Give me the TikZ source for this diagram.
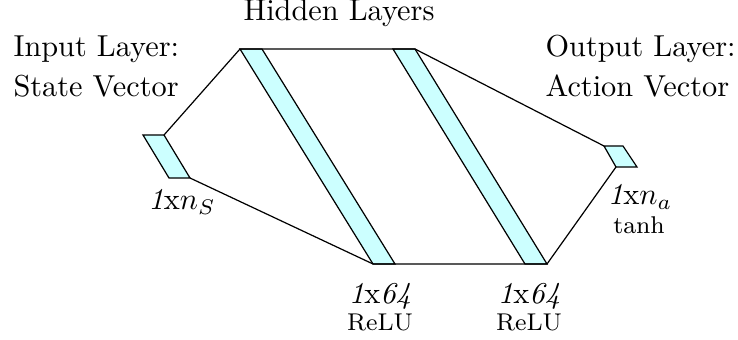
\documentclass[tikz,border=0pt]{standalone}
\usepackage{amsmath}
\usepackage{xcolor}
\usepackage{tikz}
\definecolor{layercyan}{HTML}{CCFFFF}

\begin{document}
\begin{tikzpicture}[x=0.33pt,y=-0.33pt,
    layerbox/.style={draw=black, fill=layercyan, line width=0.4pt},
    link/.style={draw=black, line width=0.4pt},
    title/.style={anchor=base, inner sep=0pt},
    sizelbl/.style={anchor=base, inner sep=0pt},
    actlbl/.style={anchor=base, inner sep=0pt, font=\footnotesize}]
  \useasboundingbox (0,0) rectangle (738,340);

  \coordinate (inTL) at (143,135); \coordinate (inTR) at (164,135);
  \coordinate (inBR) at (190,178); \coordinate (inBL) at (169,178);
  \coordinate (h1TL) at (240,49);  \coordinate (h1TR) at (262,49);
  \coordinate (h1BR) at (395,264); \coordinate (h1BL) at (373,264);
  \coordinate (h2TL) at (393,49);  \coordinate (h2TR) at (415,49);
  \coordinate (h2BR) at (547,264); \coordinate (h2BL) at (525,264);
  \coordinate (outTL) at (604,146); \coordinate (outTR) at (623,146);
  \coordinate (outBR) at (637,167); \coordinate (outBL) at (616,167);

  \filldraw[layerbox] (inTL) -- (inTR) -- (inBR) -- (inBL) -- cycle;
  \filldraw[layerbox] (h1TL) -- (h1TR) -- (h1BR) -- (h1BL) -- cycle;
  \filldraw[layerbox] (h2TL) -- (h2TR) -- (h2BR) -- (h2BL) -- cycle;
  \filldraw[layerbox] (outTL) -- (outTR) -- (outBR) -- (outBL) -- cycle;

  \draw[link] (inTR) -- (h1TL) -- (h2TR) -- (outTL);
  \draw[link] (inBR) -- (h1BL) -- (h2BR) -- (outBL);

  \node[title] (hidlbl) at (339,21) {Hidden Layers};
  \node[title, anchor=base west] (inlbl) at (13,57) {Input Layer:};
  \node[title, anchor=base west] (statelbl) at (13,97) {State Vector};
  \node[title, anchor=base west] (outlbl) at (545,57) {Output Layer:};
  \node[title, anchor=base west] (actionlbl) at (545,97) {Action Vector};

  \node[sizelbl] (insize) at (182,210) {\textit{1}x$n_S$};
  \node[sizelbl] (h1size) at (380,303) {\textit{1}x\textit{64}};
  \node[actlbl] (h1act) at (380,330) {ReLU};
  \node[sizelbl] (h2size) at (529,303) {\textit{1}x\textit{64}};
  \node[actlbl] (h2act) at (529,330) {ReLU};
  \node[sizelbl] (outsize) at (640,205) {\textit{1}x$n_a$};
  \node[actlbl] (outact) at (639,233) {tanh};
\end{tikzpicture}
\end{document}
